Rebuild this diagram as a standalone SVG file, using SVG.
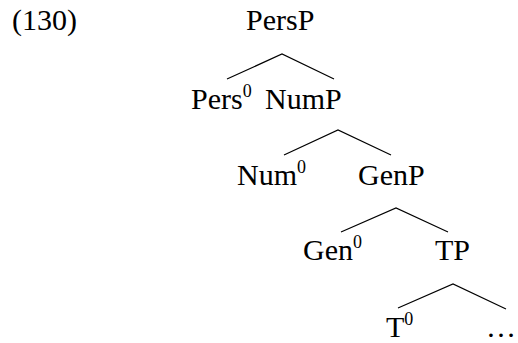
<svg xmlns="http://www.w3.org/2000/svg" width="518" height="343" viewBox="0 0 518 343">
<style>
text{font-family:"Liberation Serif","Times New Roman",serif;font-size:30px;fill:#000}
.sup{font-size:18px}
.edge{stroke:#000;stroke-width:1.2;fill:none}
</style>
<rect width="518" height="343" fill="#fff"/>
<text x="12" y="30">(130)</text>
<g id="PersP"><text x="246" y="30">PersP</text></g>
<g id="Pers0"><text x="191" y="109">Pers<tspan class="sup" dy="-12">0</tspan></text></g>
<g id="NumP"><text x="265" y="109">NumP</text></g>
<g id="Num0"><text x="237" y="185">Num<tspan class="sup" dy="-12">0</tspan></text></g>
<g id="GenP"><text x="358" y="185">GenP</text></g>
<g id="Gen0"><text x="303" y="260">Gen<tspan class="sup" dy="-12">0</tspan></text></g>
<g id="TP"><text x="435" y="260">TP</text></g>
<g id="T0"><text x="386" y="337">T<tspan class="sup" dy="-12">0</tspan></text></g>
<g id="dots"><text x="486" y="337">…</text></g>
<g id="connectors">
<path class="edge" d="M227,79 L282,54 L334,79"/>
<path class="edge" d="M284,155 L338,130 L391,155"/>
<path class="edge" d="M341,232 L396,208 L448,232"/>
<path class="edge" d="M398,308 L453,284 L506,309"/>
</g>
</svg>
